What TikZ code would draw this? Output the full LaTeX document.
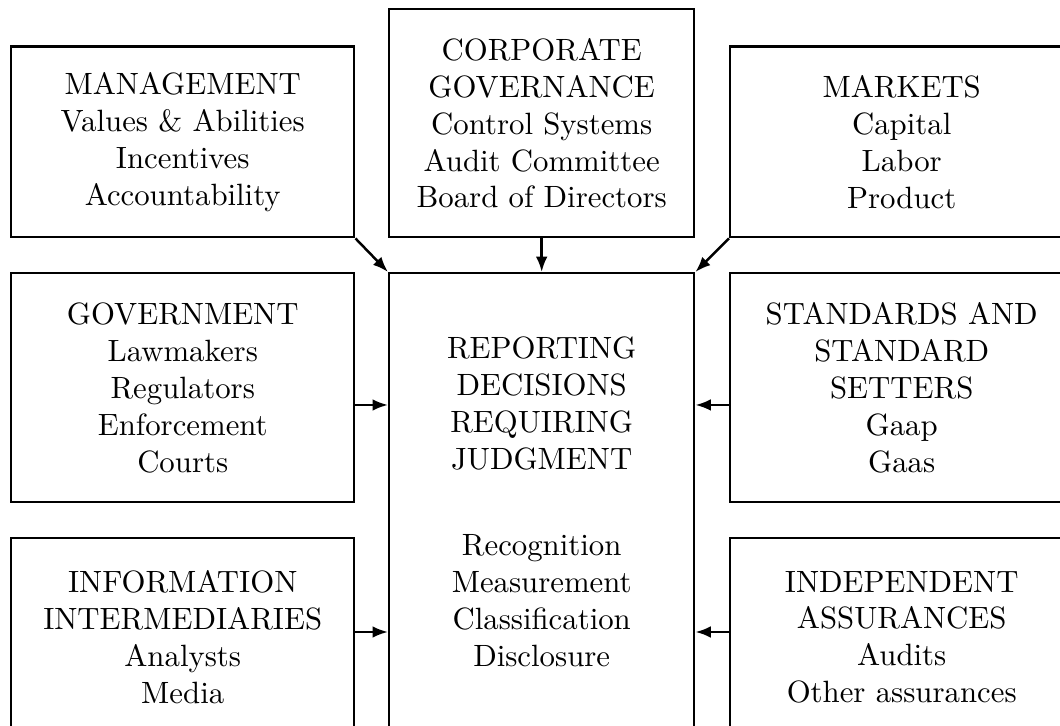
\documentclass[tikz,border=0pt]{standalone}
\usepackage{tikz}
\usetikzlibrary{arrows,arrows.meta}
\usetikzlibrary{positioning, calc}
\tikzset{
    block/.style args={#1 #2}{
        draw, thick, anchor=north west, align=center,
        minimum width=#1 cm, minimum height=#2 cm, inner sep=0pt
    },
    feed/.style={thick, -{Latex[length=5pt, width=3.8pt]}}
}

\begin{document}
\begin{tikzpicture}
    \useasboundingbox (0,0) rectangle (12.098,-8.275);
    \clip (0,0) rectangle (12.098,-8.275);
    \def \sw {3.915}
    \def \cw {3.481}
    % left column
    \node[block={\sw} {2.179}] (mgmt) at (0.114,-0.514)
        {MANAGEMENT\\Values \& Abilities\\Incentives\\Accountability};
    \node[block={\sw} {2.614}] (gov) at (0.114,-3.104)
        {GOVERNMENT\\Lawmakers\\Regulators\\Enforcement\\Courts};
    \node[block={\sw} {2.260}] (info) at (0.114,-6.129)
        {INFORMATION\\INTERMEDIARIES\\Analysts\\Media};
    % middle column
    \node[block={\cw} {2.602}] (corp) at (4.428,-0.091)
        {CORPORATE\\GOVERNANCE\\Control Systems\\Audit Committee\\Board of Directors};
    \node[block={\cw} {5.227}] (rep) at (4.428,-3.104)
        {REPORTING\\DECISIONS\\REQUIRING\\JUDGMENT\\[16pt]Recognition\\Measurement\\Classification\\Disclosure};
    % right column
    \node[block={\sw} {2.179}] (mkt) at (8.320,-0.514)
        {MARKETS\\Capital\\Labor\\Product};
    \node[block={\sw} {2.614}] (std) at (8.320,-3.104)
        {STANDARDS AND\\STANDARD\\SETTERS\\Gaap\\Gaas};
    \node[block={\sw} {2.260}] (ind) at (8.320,-6.129)
        {INDEPENDENT\\ASSURANCES\\Audits\\Other assurances};
    % arrows
    \coordinate (ya) at (0,-4.622);
    \coordinate (yb) at (0,-7.213);
    \draw[feed] (mgmt.south east) -- (rep.north west);
    \draw[feed] (corp.south) -- (rep.north);
    \draw[feed] (mkt.south west) -- (rep.north east);
    \draw[feed] (gov.east |- ya) -- (rep.west |- ya);
    \draw[feed] (info.east |- yb) -- (rep.west |- yb);
    \draw[feed] (std.west |- ya) -- (rep.east |- ya);
    \draw[feed] (ind.west |- yb) -- (rep.east |- yb);
\end{tikzpicture}
\end{document}
